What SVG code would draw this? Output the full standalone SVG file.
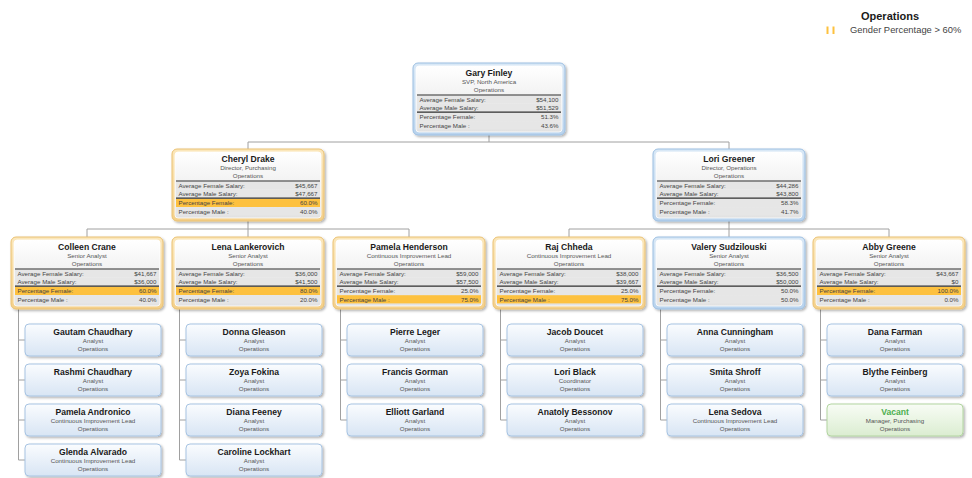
<svg xmlns="http://www.w3.org/2000/svg" width="972" height="478" viewBox="0 0 972 478">
<defs>
<linearGradient id="gIn" x1="0" y1="0" x2="0" y2="1"><stop offset="0" stop-color="#ffffff"/><stop offset="1" stop-color="#e2e2e2"/></linearGradient>
<linearGradient id="gOr" x1="0" y1="0" x2="0" y2="1"><stop offset="0" stop-color="#fbe7bb"/><stop offset="1" stop-color="#f4d08a"/></linearGradient>
<linearGradient id="gBl" x1="0" y1="0" x2="0" y2="1"><stop offset="0" stop-color="#d9e8f6"/><stop offset="1" stop-color="#b9d3ed"/></linearGradient>
<linearGradient id="gLf" x1="0" y1="0" x2="0" y2="1"><stop offset="0" stop-color="#fafcfe"/><stop offset="1" stop-color="#d8e5f4"/></linearGradient>
<linearGradient id="gVc" x1="0" y1="0" x2="0" y2="1"><stop offset="0" stop-color="#f8fcf5"/><stop offset="1" stop-color="#dbedd1"/></linearGradient>
<filter id="sh" x="-10%" y="-10%" width="125%" height="140%"><feDropShadow dx="1.5" dy="1.5" stdDeviation="1" flood-color="#000" flood-opacity="0.3"/></filter>
</defs>
<style>
text{font-family:"Liberation Sans",Arial,sans-serif;}
.nm{font-size:8.6px;font-weight:bold;fill:#1a1a1a;text-anchor:middle;}
.sm{font-size:6.2px;fill:#555;text-anchor:middle;}
.lb{font-size:6.2px;fill:#444;}
.vl{font-size:6.2px;fill:#444;text-anchor:end;}
.oo{fill:url(#gOr);stroke:#eac172;stroke-width:1;filter:url(#sh);}
.ob{fill:url(#gBl);stroke:#9cbfe2;stroke-width:1;filter:url(#sh);}
.in{fill:url(#gIn);stroke:#ffffff;stroke-width:0.8;}
.row{fill:#e6e6e6;}
.hl{fill:#fdc13f;}
.thk{stroke:#2e2e2e;stroke-width:1.2;}
.lf{fill:url(#gLf);stroke:#a7c4e3;stroke-width:1;filter:url(#sh);}
.vc{fill:url(#gVc);stroke:#b2d5a0;stroke-width:1;filter:url(#sh);}
.vn{font-size:8.6px;font-weight:bold;fill:#4caf50;text-anchor:middle;}
.cn{fill:none;stroke:#a0a0a0;stroke-width:1;}
</style>
<rect width="972" height="478" fill="#ffffff"/>

<g id="legend">
<text x="890" y="20" style="font-size:11px;font-weight:bold;fill:#1a1a1a;text-anchor:middle">Operations</text>
<rect x="826.5" y="26.5" width="2" height="7.5" fill="#fdc13f"/>
<rect x="832.5" y="26.5" width="2" height="7.5" fill="#fdc13f"/>
<text x="850" y="33" style="font-size:9.4px;fill:#444">Gender Percentage &gt; 60%</text>
</g>

<g id="connectors">
<path class="cn" d="M489,135V142M248,142H729M248,142V149M729,142V149"/>
<path class="cn" d="M248,221V229M87,229H409M87,229V237M248,229V237M409,229V237"/>
<path class="cn" d="M729,221V229M569,229H889M569,229V237M729,229V237M889,229V237"/>
<path class="cn" d="M18.5,309V460M18.5,340H25M18.5,380H25M18.5,420H25M18.5,460H25"/>
<path class="cn" d="M179.5,309V460M179.5,340H186M179.5,380H186M179.5,420H186M179.5,460H186"/>
<path class="cn" d="M340.5,309V420M340.5,340H347M340.5,380H347M340.5,420H347"/>
<path class="cn" d="M500.5,309V420M500.5,340H507M500.5,380H507M500.5,420H507"/>
<path class="cn" d="M660.5,309V420M660.5,340H667M660.5,380H667M660.5,420H667"/>
<path class="cn" d="M820.5,309V420M820.5,340H827M820.5,380H827M820.5,420H827"/>
</g>

<g id="n-gary" transform="translate(413,63)">
<rect class="ob" width="152" height="72" rx="5"/><rect class="in" x="3" y="3" width="146" height="66" rx="3"/>
<text class="nm" x="76" y="13.3">Gary Finley</text><text class="sm" x="76" y="21.3">SVP, North America</text><text class="sm" x="76" y="29.3">Operations</text>
<rect class="row" x="4" y="32.6" width="144" height="8"/><rect class="row" x="4" y="40.8" width="144" height="7.8"/><rect class="row" x="4" y="49.8" width="144" height="8.2"/><rect class="row" x="4" y="58.2" width="144" height="8.2"/>
<line class="thk" x1="4" y1="32" x2="148" y2="32"/><line class="thk" x1="4" y1="49.2" x2="148" y2="49.2"/>
<text class="lb" x="6.5" y="39">Average Female Salary:</text><text class="vl" x="145.5" y="39">$54,100</text>
<text class="lb" x="6.5" y="47">Average Male Salary:</text><text class="vl" x="145.5" y="47">$51,529</text>
<text class="lb" x="6.5" y="56.3">Percentage Female:</text><text class="vl" x="145.5" y="56.3">51.3%</text>
<text class="lb" x="6.5" y="64.6">Percentage Male :</text><text class="vl" x="145.5" y="64.6">43.6%</text>
</g>

<g id="n-cheryl" transform="translate(172,149)">
<rect class="oo" width="152" height="72" rx="5"/><rect class="in" x="3" y="3" width="146" height="66" rx="3"/>
<text class="nm" x="76" y="13.3">Cheryl Drake</text><text class="sm" x="76" y="21.3">Director, Purchasing</text><text class="sm" x="76" y="29.3">Operations</text>
<rect class="row" x="4" y="32.6" width="144" height="8"/><rect class="row" x="4" y="40.8" width="144" height="7.8"/><rect class="hl" x="4" y="49.8" width="144" height="8.2"/><rect class="row" x="4" y="58.2" width="144" height="8.2"/>
<line class="thk" x1="4" y1="32" x2="148" y2="32"/><line class="thk" x1="4" y1="49.2" x2="148" y2="49.2"/>
<text class="lb" x="6.5" y="39">Average Female Salary:</text><text class="vl" x="145.5" y="39">$45,667</text>
<text class="lb" x="6.5" y="47">Average Male Salary:</text><text class="vl" x="145.5" y="47">$47,667</text>
<text class="lb" x="6.5" y="56.3">Percentage Female:</text><text class="vl" x="145.5" y="56.3">60.0%</text>
<text class="lb" x="6.5" y="64.6">Percentage Male :</text><text class="vl" x="145.5" y="64.6">40.0%</text>
</g>

<g id="n-lori" transform="translate(653,149)">
<rect class="ob" width="152" height="72" rx="5"/><rect class="in" x="3" y="3" width="146" height="66" rx="3"/>
<text class="nm" x="76" y="13.3">Lori Greener</text><text class="sm" x="76" y="21.3">Director, Operations</text><text class="sm" x="76" y="29.3">Operations</text>
<rect class="row" x="4" y="32.6" width="144" height="8"/><rect class="row" x="4" y="40.8" width="144" height="7.8"/><rect class="row" x="4" y="49.8" width="144" height="8.2"/><rect class="row" x="4" y="58.2" width="144" height="8.2"/>
<line class="thk" x1="4" y1="32" x2="148" y2="32"/><line class="thk" x1="4" y1="49.2" x2="148" y2="49.2"/>
<text class="lb" x="6.5" y="39">Average Female Salary:</text><text class="vl" x="145.5" y="39">$44,286</text>
<text class="lb" x="6.5" y="47">Average Male Salary:</text><text class="vl" x="145.5" y="47">$43,800</text>
<text class="lb" x="6.5" y="56.3">Percentage Female:</text><text class="vl" x="145.5" y="56.3">58.3%</text>
<text class="lb" x="6.5" y="64.6">Percentage Male :</text><text class="vl" x="145.5" y="64.6">41.7%</text>
</g>

<g id="n-colleen" transform="translate(11,237)">
<rect class="oo" width="152" height="72" rx="5"/><rect class="in" x="3" y="3" width="146" height="66" rx="3"/>
<text class="nm" x="76" y="13.3">Colleen Crane</text><text class="sm" x="76" y="21.3">Senior Analyst</text><text class="sm" x="76" y="29.3">Operations</text>
<rect class="row" x="4" y="32.6" width="144" height="8"/><rect class="row" x="4" y="40.8" width="144" height="7.8"/><rect class="hl" x="4" y="49.8" width="144" height="8.2"/><rect class="row" x="4" y="58.2" width="144" height="8.2"/>
<line class="thk" x1="4" y1="32" x2="148" y2="32"/><line class="thk" x1="4" y1="49.2" x2="148" y2="49.2"/>
<text class="lb" x="6.5" y="39">Average Female Salary:</text><text class="vl" x="145.5" y="39">$41,667</text>
<text class="lb" x="6.5" y="47">Average Male Salary:</text><text class="vl" x="145.5" y="47">$36,000</text>
<text class="lb" x="6.5" y="56.3">Percentage Female:</text><text class="vl" x="145.5" y="56.3">60.0%</text>
<text class="lb" x="6.5" y="64.6">Percentage Male :</text><text class="vl" x="145.5" y="64.6">40.0%</text>
</g>

<g id="n-lena" transform="translate(172,237)">
<rect class="oo" width="152" height="72" rx="5"/><rect class="in" x="3" y="3" width="146" height="66" rx="3"/>
<text class="nm" x="76" y="13.3">Lena Lankerovich</text><text class="sm" x="76" y="21.3">Senior Analyst</text><text class="sm" x="76" y="29.3">Operations</text>
<rect class="row" x="4" y="32.6" width="144" height="8"/><rect class="row" x="4" y="40.8" width="144" height="7.8"/><rect class="hl" x="4" y="49.8" width="144" height="8.2"/><rect class="row" x="4" y="58.2" width="144" height="8.2"/>
<line class="thk" x1="4" y1="32" x2="148" y2="32"/><line class="thk" x1="4" y1="49.2" x2="148" y2="49.2"/>
<text class="lb" x="6.5" y="39">Average Female Salary:</text><text class="vl" x="145.5" y="39">$36,000</text>
<text class="lb" x="6.5" y="47">Average Male Salary:</text><text class="vl" x="145.5" y="47">$41,500</text>
<text class="lb" x="6.5" y="56.3">Percentage Female:</text><text class="vl" x="145.5" y="56.3">80.0%</text>
<text class="lb" x="6.5" y="64.6">Percentage Male :</text><text class="vl" x="145.5" y="64.6">20.0%</text>
</g>

<g id="n-pamela" transform="translate(333,237)">
<rect class="oo" width="152" height="72" rx="5"/><rect class="in" x="3" y="3" width="146" height="66" rx="3"/>
<text class="nm" x="76" y="13.3">Pamela Henderson</text><text class="sm" x="76" y="21.3">Continuous Improvement Lead</text><text class="sm" x="76" y="29.3">Operations</text>
<rect class="row" x="4" y="32.6" width="144" height="8"/><rect class="row" x="4" y="40.8" width="144" height="7.8"/><rect class="row" x="4" y="49.8" width="144" height="8.2"/><rect class="hl" x="4" y="58.2" width="144" height="8.2"/>
<line class="thk" x1="4" y1="32" x2="148" y2="32"/><line class="thk" x1="4" y1="49.2" x2="148" y2="49.2"/>
<text class="lb" x="6.5" y="39">Average Female Salary:</text><text class="vl" x="145.5" y="39">$59,000</text>
<text class="lb" x="6.5" y="47">Average Male Salary:</text><text class="vl" x="145.5" y="47">$57,500</text>
<text class="lb" x="6.5" y="56.3">Percentage Female:</text><text class="vl" x="145.5" y="56.3">25.0%</text>
<text class="lb" x="6.5" y="64.6">Percentage Male :</text><text class="vl" x="145.5" y="64.6">75.0%</text>
</g>

<g id="n-raj" transform="translate(493,237)">
<rect class="oo" width="152" height="72" rx="5"/><rect class="in" x="3" y="3" width="146" height="66" rx="3"/>
<text class="nm" x="76" y="13.3">Raj Chheda</text><text class="sm" x="76" y="21.3">Continuous Improvement Lead</text><text class="sm" x="76" y="29.3">Operations</text>
<rect class="row" x="4" y="32.6" width="144" height="8"/><rect class="row" x="4" y="40.8" width="144" height="7.8"/><rect class="row" x="4" y="49.8" width="144" height="8.2"/><rect class="hl" x="4" y="58.2" width="144" height="8.2"/>
<line class="thk" x1="4" y1="32" x2="148" y2="32"/><line class="thk" x1="4" y1="49.2" x2="148" y2="49.2"/>
<text class="lb" x="6.5" y="39">Average Female Salary:</text><text class="vl" x="145.5" y="39">$38,000</text>
<text class="lb" x="6.5" y="47">Average Male Salary:</text><text class="vl" x="145.5" y="47">$39,667</text>
<text class="lb" x="6.5" y="56.3">Percentage Female:</text><text class="vl" x="145.5" y="56.3">25.0%</text>
<text class="lb" x="6.5" y="64.6">Percentage Male :</text><text class="vl" x="145.5" y="64.6">75.0%</text>
</g>

<g id="n-valery" transform="translate(653,237)">
<rect class="ob" width="152" height="72" rx="5"/><rect class="in" x="3" y="3" width="146" height="66" rx="3"/>
<text class="nm" x="76" y="13.3">Valery Sudzilouski</text><text class="sm" x="76" y="21.3">Senior Analyst</text><text class="sm" x="76" y="29.3">Operations</text>
<rect class="row" x="4" y="32.6" width="144" height="8"/><rect class="row" x="4" y="40.8" width="144" height="7.8"/><rect class="row" x="4" y="49.8" width="144" height="8.2"/><rect class="row" x="4" y="58.2" width="144" height="8.2"/>
<line class="thk" x1="4" y1="32" x2="148" y2="32"/><line class="thk" x1="4" y1="49.2" x2="148" y2="49.2"/>
<text class="lb" x="6.5" y="39">Average Female Salary:</text><text class="vl" x="145.5" y="39">$36,500</text>
<text class="lb" x="6.5" y="47">Average Male Salary:</text><text class="vl" x="145.5" y="47">$50,000</text>
<text class="lb" x="6.5" y="56.3">Percentage Female:</text><text class="vl" x="145.5" y="56.3">50.0%</text>
<text class="lb" x="6.5" y="64.6">Percentage Male :</text><text class="vl" x="145.5" y="64.6">50.0%</text>
</g>

<g id="n-abby" transform="translate(813,237)">
<rect class="oo" width="152" height="72" rx="5"/><rect class="in" x="3" y="3" width="146" height="66" rx="3"/>
<text class="nm" x="76" y="13.3">Abby Greene</text><text class="sm" x="76" y="21.3">Senior Analyst</text><text class="sm" x="76" y="29.3">Operations</text>
<rect class="row" x="4" y="32.6" width="144" height="8"/><rect class="row" x="4" y="40.8" width="144" height="7.8"/><rect class="hl" x="4" y="49.8" width="144" height="8.2"/><rect class="row" x="4" y="58.2" width="144" height="8.2"/>
<line class="thk" x1="4" y1="32" x2="148" y2="32"/><line class="thk" x1="4" y1="49.2" x2="148" y2="49.2"/>
<text class="lb" x="6.5" y="39">Average Female Salary:</text><text class="vl" x="145.5" y="39">$43,667</text>
<text class="lb" x="6.5" y="47">Average Male Salary:</text><text class="vl" x="145.5" y="47">$0</text>
<text class="lb" x="6.5" y="56.3">Percentage Female:</text><text class="vl" x="145.5" y="56.3">100.0%</text>
<text class="lb" x="6.5" y="64.6">Percentage Male :</text><text class="vl" x="145.5" y="64.6">0.0%</text>
</g>

<g id="l-gautam" transform="translate(25,324)"><rect class="lf" width="136" height="32" rx="4"/><text class="nm" x="68" y="11.3">Gautam Chaudhary</text><text class="sm" x="68" y="19.3">Analyst</text><text class="sm" x="68" y="27.3">Operations</text></g>
<g id="l-rashmi" transform="translate(25,364)"><rect class="lf" width="136" height="32" rx="4"/><text class="nm" x="68" y="11.3">Rashmi Chaudhary</text><text class="sm" x="68" y="19.3">Analyst</text><text class="sm" x="68" y="27.3">Operations</text></g>
<g id="l-andronico" transform="translate(25,404)"><rect class="lf" width="136" height="32" rx="4"/><text class="nm" x="68" y="11.3">Pamela Andronico</text><text class="sm" x="68" y="19.3">Continuous Improvement Lead</text><text class="sm" x="68" y="27.3">Operations</text></g>
<g id="l-glenda" transform="translate(25,444)"><rect class="lf" width="136" height="32" rx="4"/><text class="nm" x="68" y="11.3">Glenda Alvarado</text><text class="sm" x="68" y="19.3">Continuous Improvement Lead</text><text class="sm" x="68" y="27.3">Operations</text></g>

<g id="l-donna" transform="translate(186,324)"><rect class="lf" width="136" height="32" rx="4"/><text class="nm" x="68" y="11.3">Donna Gleason</text><text class="sm" x="68" y="19.3">Analyst</text><text class="sm" x="68" y="27.3">Operations</text></g>
<g id="l-zoya" transform="translate(186,364)"><rect class="lf" width="136" height="32" rx="4"/><text class="nm" x="68" y="11.3">Zoya Fokina</text><text class="sm" x="68" y="19.3">Analyst</text><text class="sm" x="68" y="27.3">Operations</text></g>
<g id="l-diana" transform="translate(186,404)"><rect class="lf" width="136" height="32" rx="4"/><text class="nm" x="68" y="11.3">Diana Feeney</text><text class="sm" x="68" y="19.3">Analyst</text><text class="sm" x="68" y="27.3">Operations</text></g>
<g id="l-caroline" transform="translate(186,444)"><rect class="lf" width="136" height="32" rx="4"/><text class="nm" x="68" y="11.3">Caroline Lockhart</text><text class="sm" x="68" y="19.3">Analyst</text><text class="sm" x="68" y="27.3">Operations</text></g>

<g id="l-pierre" transform="translate(347,324)"><rect class="lf" width="136" height="32" rx="4"/><text class="nm" x="68" y="11.3">Pierre Leger</text><text class="sm" x="68" y="19.3">Analyst</text><text class="sm" x="68" y="27.3">Operations</text></g>
<g id="l-francis" transform="translate(347,364)"><rect class="lf" width="136" height="32" rx="4"/><text class="nm" x="68" y="11.3">Francis Gorman</text><text class="sm" x="68" y="19.3">Analyst</text><text class="sm" x="68" y="27.3">Operations</text></g>
<g id="l-elliott" transform="translate(347,404)"><rect class="lf" width="136" height="32" rx="4"/><text class="nm" x="68" y="11.3">Elliott Garland</text><text class="sm" x="68" y="19.3">Analyst</text><text class="sm" x="68" y="27.3">Operations</text></g>

<g id="l-jacob" transform="translate(507,324)"><rect class="lf" width="136" height="32" rx="4"/><text class="nm" x="68" y="11.3">Jacob Doucet</text><text class="sm" x="68" y="19.3">Analyst</text><text class="sm" x="68" y="27.3">Operations</text></g>
<g id="l-loriblack" transform="translate(507,364)"><rect class="lf" width="136" height="32" rx="4"/><text class="nm" x="68" y="11.3">Lori Black</text><text class="sm" x="68" y="19.3">Coordinator</text><text class="sm" x="68" y="27.3">Operations</text></g>
<g id="l-anatoly" transform="translate(507,404)"><rect class="lf" width="136" height="32" rx="4"/><text class="nm" x="68" y="11.3">Anatoly Bessonov</text><text class="sm" x="68" y="19.3">Analyst</text><text class="sm" x="68" y="27.3">Operations</text></g>

<g id="l-anna" transform="translate(667,324)"><rect class="lf" width="136" height="32" rx="4"/><text class="nm" x="68" y="11.3">Anna Cunningham</text><text class="sm" x="68" y="19.3">Analyst</text><text class="sm" x="68" y="27.3">Operations</text></g>
<g id="l-smita" transform="translate(667,364)"><rect class="lf" width="136" height="32" rx="4"/><text class="nm" x="68" y="11.3">Smita Shroff</text><text class="sm" x="68" y="19.3">Analyst</text><text class="sm" x="68" y="27.3">Operations</text></g>
<g id="l-sedova" transform="translate(667,404)"><rect class="lf" width="136" height="32" rx="4"/><text class="nm" x="68" y="11.3">Lena Sedova</text><text class="sm" x="68" y="19.3">Continuous Improvement Lead</text><text class="sm" x="68" y="27.3">Operations</text></g>

<g id="l-dana" transform="translate(827,324)"><rect class="lf" width="136" height="32" rx="4"/><text class="nm" x="68" y="11.3">Dana Farman</text><text class="sm" x="68" y="19.3">Analyst</text><text class="sm" x="68" y="27.3">Operations</text></g>
<g id="l-blythe" transform="translate(827,364)"><rect class="lf" width="136" height="32" rx="4"/><text class="nm" x="68" y="11.3">Blythe Feinberg</text><text class="sm" x="68" y="19.3">Analyst</text><text class="sm" x="68" y="27.3">Operations</text></g>
<g id="l-vacant" transform="translate(827,404)"><rect class="vc" width="136" height="32" rx="4"/><text class="vn" x="68" y="11.3">Vacant</text><text class="sm" x="68" y="19.3">Manager, Purchasing</text><text class="sm" x="68" y="27.3">Operations</text></g>
</svg>
